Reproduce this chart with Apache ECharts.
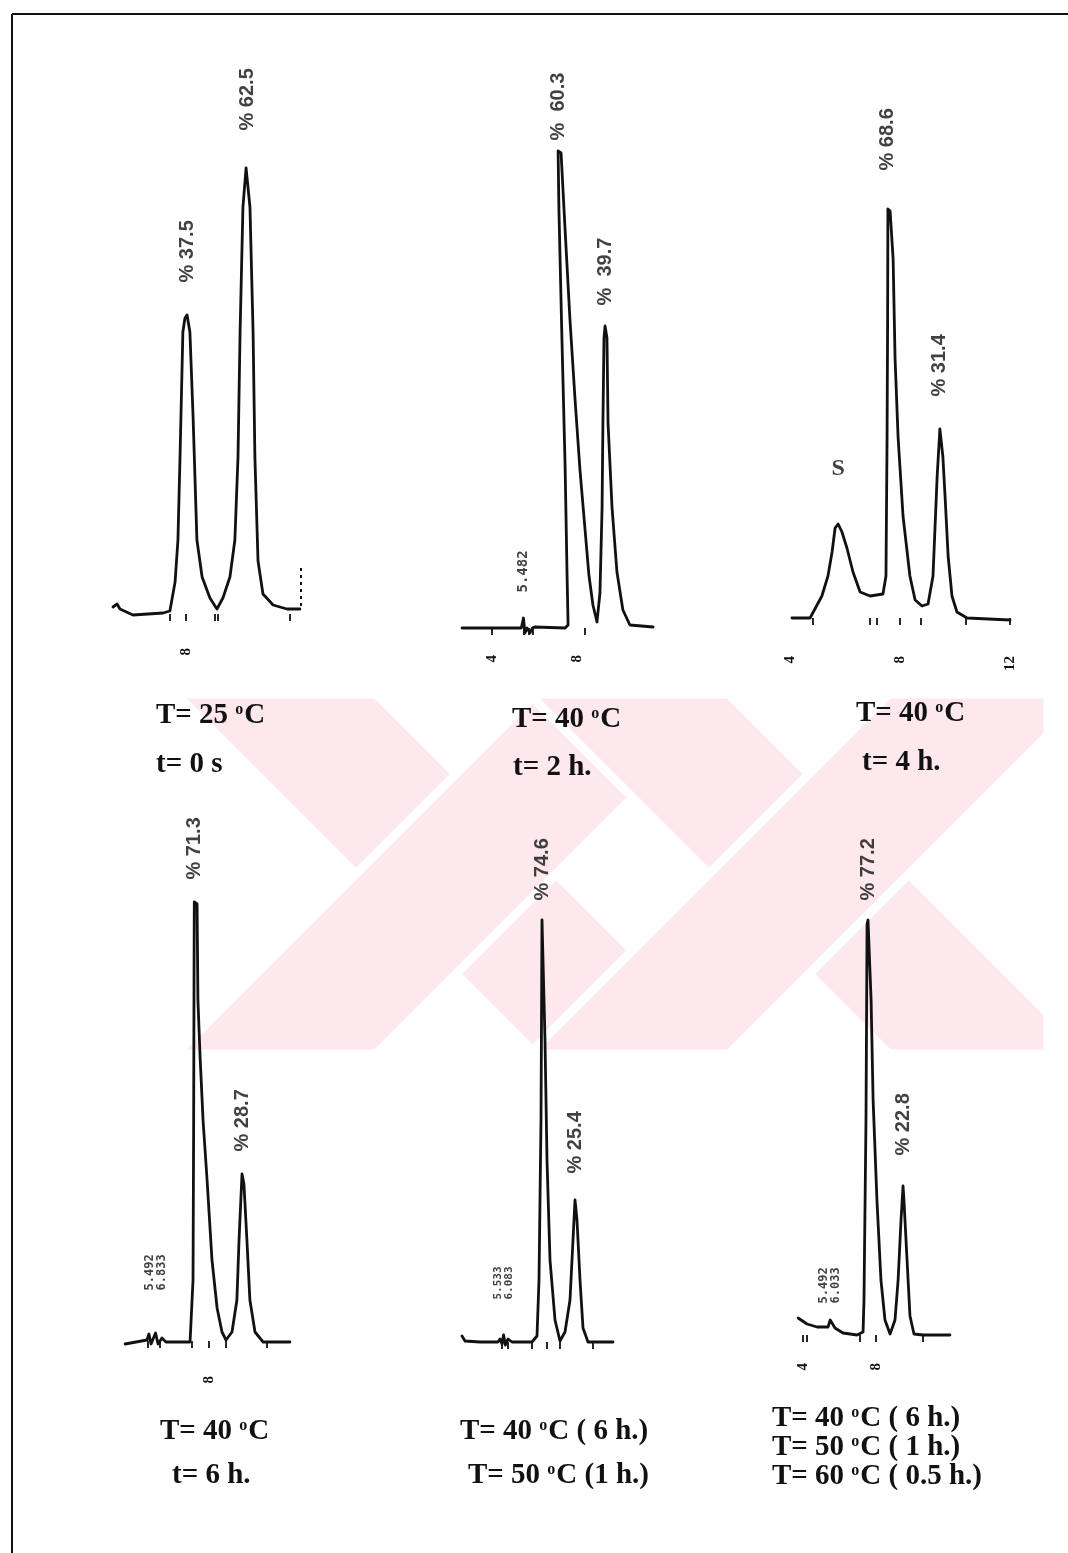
<!DOCTYPE html>
<html>
<head>
<meta charset="utf-8">
<script src="https://cdn.jsdelivr.net/npm/echarts@6/dist/echarts.min.js"></script>
<style>
  html, body { margin: 0; padding: 0; background: #ffffff; }
  #chart { width: 1068px; height: 1553px; }
</style>
</head>
<body>
<div id="chart"></div>
<script>
// ---- Chromatograms: retention time (min) vs detector response (mV) ----

// Run 1: T = 25 °C, t = 0 s
const p1Signal = [[5.19,0.7],[5.35,1.0],[5.46,0.5],[5.96,-0.1],[7.12,0.1],[7.38,0.3],[7.58,3.2],[7.69,7.4],[7.77,15.7],[7.88,28.2],[7.96,29.6],[8.04,29.9],[8.15,28.2],[8.27,19.9],[8.42,7.4],[8.62,3.7],[8.92,1.6],[9.19,0.5],[9.42,1.6],[9.69,3.7],[9.88,7.4],[10.00,15.7],[10.08,28.2],[10.19,40.7],[10.31,44.6],[10.38,44.8],[10.46,40.7],[10.58,28.2],[10.65,15.7],[10.77,5.3],[10.96,2.0],[11.35,0.9],[11.88,0.5],[12.38,0.5]];
const p1PeakTimes = [8.04, 10.38];
const p1Percent = [37.5, 62.5];
const p1Ticks = [7.38, 8, 9.12, 9.23, 12];
const p1TickLabels = [8];
const p1Retention = [];
const p1StopMark = [12.42, 0.8, 4.8];   // end-of-run pen mark: time, from, to
const p1Conditions = ['T= 25 °C', 't= 0 s'];

// Run 2: T = 40 °C, t = 2 h
const p2Signal = [[2.59,0],[5.38,0],[5.48,1.0],[5.55,-0.5],[5.65,0],[5.79,-0.5],[5.90,0],[6.00,0.1],[7.44,0],[7.58,0.3],[7.53,5.6],[7.44,16.2],[7.29,29.0],[7.15,41.8],[7.11,47.7],[7.25,47.5],[7.44,39.8],[7.67,30.8],[7.91,22.8],[8.14,15.8],[8.38,9.8],[8.56,5.3],[8.75,2.3],[8.94,0.6],[9.08,3.5],[9.18,12.0],[9.22,20.5],[9.27,29.0],[9.32,30.2],[9.41,29.0],[9.46,20.5],[9.65,12.0],[9.88,5.6],[10.16,1.8],[10.49,0.3],[11.58,0.1]];
const p2PeakTimes = [7.11, 9.32];
const p2Percent = [60.3, 39.7];
const p2Ticks = [4, 5.48, 5.75, 5.9, 8.38];
const p2TickLabels = [4, 8];
const p2Retention = ['5.482'];
const p2Conditions = ['T= 40 °C', 't= 2 h.'];

// Run 3: T = 40 °C, t = 4 h (S = solvent)
const p3Signal = [[4.07,0],[4.73,0],[5.16,2.2],[5.38,4.2],[5.53,6.6],[5.64,9.0],[5.75,9.4],[5.89,8.6],[6.07,7.0],[6.29,4.6],[6.55,2.6],[6.91,2.2],[7.38,2.4],[7.49,4.2],[7.53,18.1],[7.55,30.0],[7.56,40.9],[7.64,40.7],[7.75,35.9],[7.82,26.0],[7.93,18.1],[8.11,10.2],[8.36,4.2],[8.55,1.8],[8.80,1.2],[9.02,1.4],[9.20,4.2],[9.35,14.1],[9.45,18.9],[9.56,16.1],[9.64,12.1],[9.75,6.2],[9.89,2.2],[10.07,0.6],[10.44,0],[12.00,-0.2]];
const p3PeakTimes = [7.56, 9.45];
const p3Percent = [68.6, 31.4];
const p3SolventTime = 5.75;
const p3Ticks = [4.84, 6.91, 7.16, 8, 8.76, 10.4, 12];
const p3TickLabels = [4, 8, 12];
const p3Retention = [];
const p3Conditions = ['T= 40 °C', 't= 4 h.'];

// Run 4: T = 40 °C, t = 6 h
const p4Signal = [[4.06,-0.3],[5.09,0.1],[5.18,0.7],[5.28,-0.3],[5.49,0.8],[5.61,-0.3],[5.79,0.3],[5.98,-0.1],[7.11,-0.1],[7.25,6.1],[7.28,22.1],[7.30,38.1],[7.31,43.9],[7.44,43.7],[7.48,34.1],[7.58,28.5],[7.72,22.1],[7.91,16.1],[8.14,8.1],[8.38,3.3],[8.61,0.9],[8.80,0.1],[9.08,0.9],[9.31,4.1],[9.41,10.1],[9.55,16.7],[9.64,15.7],[9.78,10.1],[9.92,4.1],[10.16,0.9],[10.54,-0.1],[11.80,-0.1]];
const p4PeakTimes = [7.31, 9.55];
const p4Percent = [71.3, 28.7];
const p4Ticks = [5.14, 5.7, 7.2, 8, 8.8, 10.72];
const p4TickLabels = [8];
const p4Retention = ['5.492', '6.833'];
const p4Conditions = ['T= 40 °C', 't= 6 h.'];

// Run 5: 40 °C (6 h) then 50 °C (1 h)
const p5Signal = [[3.45,0.6],[3.60,0.1],[4.35,0],[5.25,0],[5.35,0.3],[5.45,-0.2],[5.53,0.7],[5.62,-0.3],[5.75,0.3],[5.95,0],[6.95,0],[7.20,0.6],[7.30,6.2],[7.40,22.2],[7.45,42.2],[7.50,42.2],[7.60,30.2],[7.70,18.2],[7.85,8.2],[8.10,2.2],[8.35,0.1],[8.60,1.0],[8.85,4.2],[9.00,10.2],[9.10,14.2],[9.20,12.2],[9.35,6.2],[9.50,1.4],[9.75,0],[11.00,0]];
const p5PeakTimes = [7.45, 9.10];
const p5Percent = [74.6, 25.4];
const p5Ticks = [5.45, 5.75, 6.95, 7.7, 8.35, 10.0];
const p5TickLabels = [];
const p5Retention = ['5.533', '6.083'];
const p5Conditions = ['T= 40 °C ( 6 h.)', 'T= 50 °C (1 h.)'];

// Run 6: 40 °C (6 h), 50 °C (1 h), 60 °C (0.5 h)
const p6Signal = [[3.73,1.7],[4.22,1.1],[4.77,0.8],[5.37,0.8],[5.49,1.5],[5.75,0.7],[6.19,0.2],[6.96,0],[7.29,0.3],[7.34,3.5],[7.45,21.5],[7.51,41.1],[7.56,41.5],[7.73,33.5],[7.84,23.5],[8.05,13.5],[8.27,5.5],[8.49,1.5],[8.77,0.1],[9.04,1.5],[9.21,5.5],[9.37,11.5],[9.48,14.9],[9.53,13.5],[9.70,7.5],[9.86,1.9],[10.08,0.1],[10.58,0],[12.05,0]];
const p6PeakTimes = [7.56, 9.48];
const p6Percent = [77.2, 22.8];
const p6Ticks = [4, 4.22, 7.12, 8, 10.58];
const p6TickLabels = [4, 8];
const p6Retention = ['5.492', '6.033'];
const p6Conditions = ['T= 40 °C ( 6 h.)', 'T= 50 °C ( 1 h.)', 'T= 60 °C ( 0.5 h.)'];

// ---- Layout of the six panels (pixels) ----
const panelLayout = [
  { left: 108,   top: 114, width: 195,    min: 5,   max: 12.5, margin: 34, gaps: [40, 43], dx: [-8, -8], pctPrefix: '% ' },
  { left: 449.5, top: 128, width: 212.5,  min: 2,   max: 12,   margin: 27, gaps: [12, 22], dx: [-2, -2], pctPrefix: '%  ', rtGap: 25, rtSize: 14 },
  { left: 790,   top: 118, width: 233.75, min: 4,   max: 12.5, margin: 38, gaps: [40, 36], dx: [-2, -4], pctPrefix: '% ', sGap: 43 },
  { left: 123.8, top: 841, width: 170.4,  min: 4,   max: 12,   margin: 35, gaps: [22, 22], dx: [0, 0],   pctPrefix: '% ', rtGap: 42, rtSize: 12 },
  { left: 453,   top: 842, width: 180,    min: 3,   max: 12,   margin: 30, gaps: [24, 24], dx: [-5, 2],  pctPrefix: '% ', rtGap: 35, rtSize: 11 },
  { left: 793.9, top: 835, width: 164.25, min: 3.5, max: 12.5, margin: 28, gaps: [20, 22], dx: [-1, 8],  pctPrefix: '% ', rtGap: 16, rtSize: 12 }
];
const captionLayout = [
  { xs: [156, 156], ys: [716, 765] },
  { xs: [512, 513], ys: [720, 768] },
  { xs: [856, 862], ys: [714, 763] },
  { xs: [160, 172], ys: [1432, 1476] },
  { xs: [460, 468], ys: [1432, 1476] },
  { xs: [772, 772, 772], ys: [1419, 1448, 1477] }
];
const PANEL_H = 500;   // 10 px per mV
const Y_MAX = 50;

const INK = '#111111';
const SERIF = "'Liberation Serif', 'Times New Roman', serif";
const SANS = "'Liberation Sans', Arial, sans-serif";
const MONO = "'DejaVu Sans Mono', 'Liberation Mono', monospace";

const runs = [
  { signal: p1Signal, peaks: p1PeakTimes, pct: p1Percent, ticks: p1Ticks, tickLabels: p1TickLabels, rt: p1Retention, cond: p1Conditions, stop: p1StopMark },
  { signal: p2Signal, peaks: p2PeakTimes, pct: p2Percent, ticks: p2Ticks, tickLabels: p2TickLabels, rt: p2Retention, cond: p2Conditions },
  { signal: p3Signal, peaks: p3PeakTimes, pct: p3Percent, ticks: p3Ticks, tickLabels: p3TickLabels, rt: p3Retention, cond: p3Conditions, solvent: p3SolventTime },
  { signal: p4Signal, peaks: p4PeakTimes, pct: p4Percent, ticks: p4Ticks, tickLabels: p4TickLabels, rt: p4Retention, cond: p4Conditions },
  { signal: p5Signal, peaks: p5PeakTimes, pct: p5Percent, ticks: p5Ticks, tickLabels: p5TickLabels, rt: p5Retention, cond: p5Conditions },
  { signal: p6Signal, peaks: p6PeakTimes, pct: p6Percent, ticks: p6Ticks, tickLabels: p6TickLabels, rt: p6Retention, cond: p6Conditions }
];

// highest recorded point of the trace within ±0.3 min of a retention time
function apexNear(signal, t) {
  let best = null;
  for (const p of signal) {
    if (Math.abs(p[0] - t) <= 0.3 && (!best || p[1] > best[1])) best = p;
  }
  return best;
}

const grids = [], xAxes = [], yAxes = [], series = [];

runs.forEach((run, i) => {
  const L = panelLayout[i];
  grids.push({ left: L.left, top: L.top, width: L.width, height: PANEL_H, containLabel: false, outerBoundsMode: 'none' });
  xAxes.push({
    gridIndex: i, type: 'value', min: L.min, max: L.max,
    axisLine: { show: false },
    splitLine: { show: false },
    axisTick: { show: true, customValues: run.ticks, length: 7, inside: false, lineStyle: { color: INK, width: 1.8 } },
    axisLabel: {
      show: run.tickLabels.length > 0,
      customValues: run.tickLabels.length ? run.tickLabels : [L.min],
      rotate: 90, margin: L.margin, color: INK,
      fontSize: 15, fontWeight: 'bold', fontFamily: SERIF,
      formatter: v => String(v)
    }
  });
  yAxes.push({ gridIndex: i, type: 'value', min: 0, max: Y_MAX, show: false });

  // the recorder trace
  const trace = {
    type: 'line', xAxisIndex: i, yAxisIndex: i, data: run.signal,
    showSymbol: false, clip: false, silent: true, animation: false,
    lineStyle: { color: INK, width: 2.8, join: 'round', cap: 'round' }
  };
  if (run.stop) {
    trace.markLine = {
      silent: true, symbol: 'none', animation: false, label: { show: false },
      lineStyle: { color: INK, width: 2, type: [3, 4] },
      data: [[{ coord: [run.stop[0], run.stop[1]] }, { coord: [run.stop[0], run.stop[2]] }]]
    };
  }
  series.push(trace);

  // area-percent labels above the two main peaks
  series.push({
    type: 'scatter', xAxisIndex: i, yAxisIndex: i, symbolSize: 1, silent: true, animation: false,
    itemStyle: { color: 'rgba(0,0,0,0)' },
    data: run.peaks.map((t, k) => ({
      value: apexNear(run.signal, t),
      label: {
        show: true, position: 'top', distance: L.gaps[k], offset: [L.dx[k], 0],
        rotate: 90, align: 'left', verticalAlign: 'middle',
        formatter: L.pctPrefix + run.pct[k].toFixed(1),
        fontFamily: SANS, fontWeight: 'bold', fontSize: 20, color: INK
      }
    }))
  });

  // solvent peak marker
  if (run.solvent !== undefined) {
    series.push({
      type: 'scatter', xAxisIndex: i, yAxisIndex: i, symbolSize: 1, silent: true, animation: false,
      itemStyle: { color: 'rgba(0,0,0,0)' },
      data: [{ value: apexNear(run.signal, run.solvent),
        label: { show: true, position: 'top', distance: L.sGap, formatter: 'S',
          fontFamily: SERIF, fontWeight: 'bold', fontSize: 24, color: INK } }]
    });
  }

  // printed retention times of the minor early peaks
  if (run.rt.length) {
    const t0 = parseFloat(run.rt[0]);
    const near = run.signal.reduce((a, p) => Math.abs(p[0] - t0) < Math.abs(a[0] - t0) ? p : a);
    series.push({
      type: 'scatter', xAxisIndex: i, yAxisIndex: i, symbolSize: 1, silent: true, animation: false,
      itemStyle: { color: 'rgba(0,0,0,0)' },
      data: [{ value: [t0, near[1]],
        label: { show: true, position: 'top', distance: L.rtGap,
          rotate: 90, align: 'left', verticalAlign: 'middle',
          formatter: run.rt.join('\n'), lineHeight: L.rtSize,
          fontFamily: MONO, fontWeight: 'bold', fontSize: L.rtSize, color: INK } }]
    });
  }
});

// ---- Decoration: page frame, faint watermark, run conditions ----
const WM = '#fde8ed';
const watermarkBands = [
  [[176, 694], [376, 694], [736, 1054], [536, 1054]],
  [[536, 694], [736, 694], [376, 1054], [176, 1054]],
  [[529, 694], [729, 694], [1048, 1013], [1048, 1054], [889, 1054]],
  [[889, 694], [1048, 694], [1048, 735], [729, 1054], [529, 1054]]
];
const graphics = [];
watermarkBands.forEach(pts => {
  graphics.push({ type: 'polygon', z: -5, silent: true, shape: { points: pts },
    style: { fill: WM, stroke: '#ffffff', lineWidth: 9 } });
});
graphics.push({ type: 'line', z: 5, silent: true, shape: { x1: 12, y1: 14, x2: 1068, y2: 14 }, style: { stroke: INK, lineWidth: 2 } });
graphics.push({ type: 'line', z: 5, silent: true, shape: { x1: 12, y1: 14, x2: 12, y2: 1553 }, style: { stroke: INK, lineWidth: 2 } });

runs.forEach((run, i) => {
  const C = captionLayout[i];
  run.cond.forEach((line, k) => {
    graphics.push({
      type: 'text', z: 10, silent: true, x: C.xs[k], y: C.ys[k],
      style: {
        text: line.replace('°', '{o|o}'),
        fill: INK, fontFamily: SERIF, fontWeight: 'bold', fontSize: 29,
        align: 'left', verticalAlign: 'middle',
        rich: { o: { fontFamily: SERIF, fontWeight: 'bold', fontSize: 16, verticalAlign: 'top', padding: [0, 1, 13, 0] } }
      }
    });
  });
});

const chart = echarts.init(document.getElementById('chart'), null, { renderer: 'canvas' });
chart.setOption({
  backgroundColor: '#ffffff',
  animation: false,
  grid: grids,
  xAxis: xAxes,
  yAxis: yAxes,
  series: series,
  graphic: { elements: graphics }
});
</script>
</body>
</html>
